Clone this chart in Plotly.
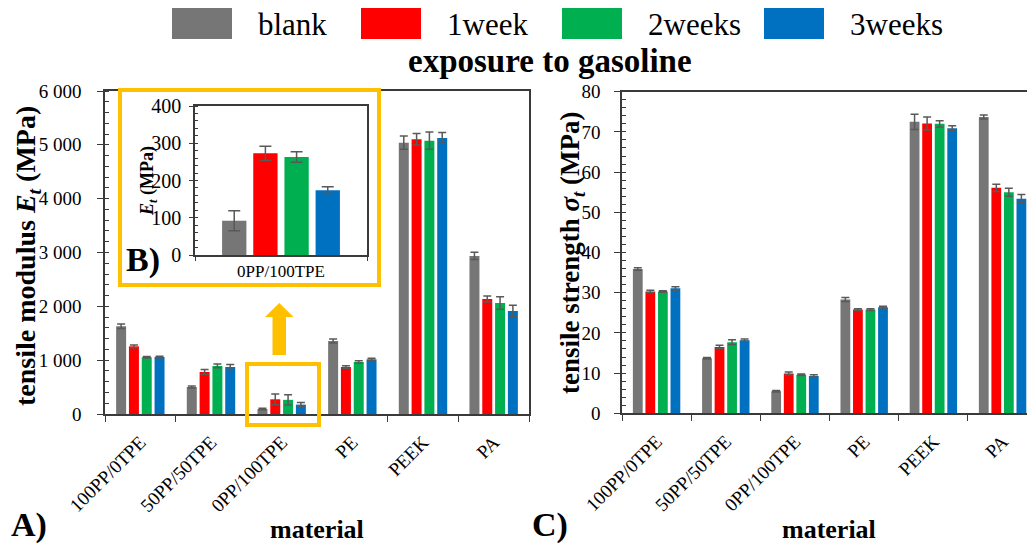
import plotly.graph_objects as go

# ---------------- data ----------------
categories = ["100PP/0TPE", "50PP/50TPE", "0PP/100TPE", "PE", "PEEK", "PA"]
series_names = ["blank", "1week", "2weeks", "3weeks"]
series_colors = ["#767676", "#FF0000", "#00B050", "#0070C0"]

# tensile modulus E_t (MPa)
modulus_blank = [1630, 502, 92, 1356, 5041, 2936]
modulus_1week = [1257, 780, 273, 873, 5104, 2137]
modulus_2weeks = [1053, 892, 263, 966, 5078, 2062]
modulus_3weeks = [1059, 873, 174, 1016, 5128, 1914]
modulus_err_blank = [40, 20, 15, 35, 124, 68]
modulus_err_1week = [25, 45, 100, 25, 105, 56]
modulus_err_2weeks = [15, 35, 95, 25, 160, 115]
modulus_err_3weeks = [15, 45, 40, 20, 100, 105]

# inset (0PP/100TPE) error bars
inset_err = [27, 19, 14, 9]

# tensile strength sigma_t (MPa)
strength_blank = [35.9, 13.7, 5.5, 28.3, 72.5, 73.7]
strength_1week = [30.3, 16.5, 9.9, 25.8, 72.1, 56.1]
strength_2weeks = [30.3, 17.7, 9.6, 25.8, 72.0, 55.0]
strength_3weeks = [31.1, 18.2, 9.3, 26.4, 70.9, 53.4]
strength_err_blank = [0.3, 0.2, 0.2, 0.5, 1.9, 0.5]
strength_err_1week = [0.3, 0.4, 0.4, 0.2, 1.6, 0.9]
strength_err_2weeks = [0.2, 0.6, 0.2, 0.2, 0.8, 1.0]
strength_err_3weeks = [0.4, 0.3, 0.3, 0.2, 0.6, 1.0]

modulus_ticks = [0, 1000, 2000, 3000, 4000, 5000, 6000]
modulus_ticktext = ["0", "1 000", "2 000", "3 000", "4 000", "5 000", "6 000"]
strength_ticks = [0, 10, 20, 30, 40, 50, 60, 70, 80]
inset_ticks = [0, 100, 200, 300, 400]

modulus = [modulus_blank, modulus_1week, modulus_2weeks, modulus_3weeks]
modulus_err = [modulus_err_blank, modulus_err_1week, modulus_err_2weeks, modulus_err_3weeks]
strength = [strength_blank, strength_1week, strength_2weeks, strength_3weeks]
strength_err = [strength_err_blank, strength_err_1week, strength_err_2weeks, strength_err_3weeks]

# ---------------- layout helpers ----------------
W, H = 1027, 544
FONT = "Liberation Serif"
AX = "#3a3a3a"
ERRC = "#595959"
ORANGE = "#FFC000"


def px(x):
    return x / W


def py(y):
    return 1 - y / H


fig = go.Figure()

inset_idx = categories.index("0PP/100TPE")
for i, name in enumerate(series_names):
    fig.add_trace(go.Bar(
        x=categories, y=modulus[i], name=name, marker_color=series_colors[i],
        marker_line_width=0,
        error_y=dict(type="data", array=modulus_err[i], color=ERRC, thickness=1.5, width=4),
        xaxis="x", yaxis="y", showlegend=False))
for i, name in enumerate(series_names):
    fig.add_trace(go.Bar(
        x=categories, y=strength[i], name=name, marker_color=series_colors[i],
        marker_line_width=0,
        error_y=dict(type="data", array=strength_err[i], color=ERRC, thickness=1.5, width=4),
        xaxis="x2", yaxis="y2", showlegend=False))
for i, name in enumerate(series_names):
    fig.add_trace(go.Bar(
        x=[categories[inset_idx]], y=[modulus[i][inset_idx]], name=name,
        marker_color=series_colors[i], marker_line_width=0,
        error_y=dict(type="data", array=[inset_err[i]], color=ERRC, thickness=1.5, width=6),
        xaxis="x3", yaxis="y3", showlegend=False))

common_x = dict(type="category", categoryorder="array", categoryarray=categories,
                automargin=False,
                showline=True, linecolor=AX, linewidth=1.5, ticks="outside",
                tickson="boundaries", ticklen=6, tickcolor=AX, tickwidth=1.2,
                showgrid=False, zeroline=False,
                tickfont=dict(family=FONT, size=19, color="black"))
common_y = dict(automargin=False,
                showline=True, linecolor=AX, linewidth=1.5, ticks="outside",
                ticklen=6, tickcolor=AX, tickwidth=1.2, showgrid=False,
                zeroline=False, tickfont=dict(family=FONT, size=19, color="black"))

fig.update_layout(
    template="none",
    font=dict(family=FONT, color="black"),
    width=W, height=H, autosize=False,
    margin=dict(l=0, r=0, t=0, b=0, pad=0, autoexpand=False),
    paper_bgcolor="white", plot_bgcolor="white",
    barmode="group", bargap=0.275, bargroupgap=0.22,
    showlegend=False,
    xaxis=dict(common_x, domain=[px(105), px(529)], anchor="y", mirror=True,
               tickangle=-45, ticklabelstandoff=8),
    yaxis=dict(common_y, domain=[py(414), py(91)], anchor="x", mirror=True,
               range=[0, 6000], tickmode="array", tickvals=modulus_ticks,
               ticktext=modulus_ticktext, ticklabelstandoff=12,
               minor=dict(tickmode="linear", tick0=0, dtick=200, ticks="inside",
                          ticklen=4, tickcolor=AX, tickwidth=1)),
    xaxis2=dict(common_x, domain=[px(622), 1.0], anchor="y2", mirror=True,
                range=[-0.5, 5.353], tickangle=-45, ticklabelstandoff=8),
    yaxis2=dict(common_y, domain=[py(413.3), py(91.7)], anchor="x2", mirror=False,
                range=[0, 80], tickmode="array", tickvals=strength_ticks,
                ticklabelstandoff=10,
                minor=dict(tickmode="linear", tick0=0, dtick=2, ticks="inside",
                           ticklen=4, tickcolor=AX, tickwidth=1)),
    xaxis3=dict(common_x, domain=[px(195), px(367)], anchor="y3", mirror=True,
                ticklen=4, tickfont=dict(family=FONT, size=17, color="black")),
    yaxis3=dict(common_y, domain=[py(255), py(106)], anchor="x3", mirror=True,
                range=[0, 400], tickmode="array", tickvals=inset_ticks, ticklen=4,
                ticklabelstandoff=4,
                tickfont=dict(family=FONT, size=20, color="black"),
                minor=dict(tickmode="linear", tick0=0, dtick=20, ticks="inside",
                           ticklen=3, tickcolor=AX, tickwidth=1)),
)

shapes = []
annotations = []

# legend (manual, large swatches)
legend_box_left = [172, 361, 562, 764]
for i, name in enumerate(series_names):
    x0 = legend_box_left[i]
    shapes.append(dict(type="rect", xref="paper", yref="paper",
                       x0=px(x0), x1=px(x0 + 60), y0=py(39), y1=py(8),
                       fillcolor=series_colors[i], line=dict(width=0)))
    annotations.append(dict(text=name, xref="paper", yref="paper",
                            x=px(x0 + 84), y=py(24.5), xanchor="left", yanchor="middle",
                            showarrow=False,
                            font=dict(family=FONT, size=31, color="black")))

# title
annotations.append(dict(text="<b>exposure to gasoline</b>", xref="paper", yref="paper",
                        x=px(550), y=py(61), xanchor="center", yanchor="middle",
                        showarrow=False, font=dict(family=FONT, size=33, color="black")))

# axis titles
annotations.append(dict(text="<b>tensile modulus <i>E<sub>t</sub></i> (MPa)</b>",
                        xref="paper", yref="paper", x=px(27), y=py(256),
                        xanchor="center", yanchor="middle", textangle=-90, showarrow=False,
                        font=dict(family=FONT, size=28, color="black")))
annotations.append(dict(text="<b>tensile strength <i>σ<sub>t</sub></i> (MPa)</b>",
                        xref="paper", yref="paper", x=px(572), y=py(253),
                        xanchor="center", yanchor="middle", textangle=-90, showarrow=False,
                        font=dict(family=FONT, size=27, color="black")))
annotations.append(dict(text="<b><i>E<sub>t</sub></i> (MPa)</b>",
                        xref="paper", yref="paper", x=px(148), y=py(181),
                        xanchor="center", yanchor="middle", textangle=-90, showarrow=False,
                        font=dict(family=FONT, size=18, color="black")))
for xc in [317, 829]:
    annotations.append(dict(text="<b>material</b>", xref="paper", yref="paper",
                            x=px(xc), y=py(529), xanchor="center", yanchor="middle",
                            showarrow=False, font=dict(family=FONT, size=26, color="black")))

# panel labels
for lab, xc, yc in [("A)", 29, 525), ("C)", 550, 525), ("B)", 143, 260)]:
    annotations.append(dict(text=f"<b>{lab}</b>", xref="paper", yref="paper",
                            x=px(xc), y=py(yc), xanchor="center", yanchor="middle",
                            showarrow=False, font=dict(family=FONT, size=34, color="black")))

# orange frames and arrow
shapes.append(dict(type="rect", xref="paper", yref="paper", layer="above",
                   x0=px(120), x1=px(379), y0=py(285), y1=py(90),
                   line=dict(color=ORANGE, width=4), fillcolor="rgba(0,0,0,0)"))
shapes.append(dict(type="rect", xref="paper", yref="paper", layer="above",
                   x0=px(247), x1=px(319), y0=py(425), y1=py(364),
                   line=dict(color=ORANGE, width=4), fillcolor="rgba(0,0,0,0)"))
arrow_pts = [(272.5, 355), (286, 355), (286, 317), (293.5, 317), (279.3, 303),
             (265, 317), (272.5, 317)]
path = "M " + " L ".join(f"{px(x):.5f},{py(y):.5f}" for x, y in arrow_pts) + " Z"
shapes.append(dict(type="path", xref="paper", yref="paper", path=path,
                   fillcolor=ORANGE, line=dict(width=0), layer="above"))

fig.update_layout(shapes=shapes, annotations=annotations)

fig.write_html("out.html", config={"displayModeBar": False},
               post_script="document.body.style.margin='0';document.body.style.padding='0';"
                           "document.body.style.overflow='hidden';")
